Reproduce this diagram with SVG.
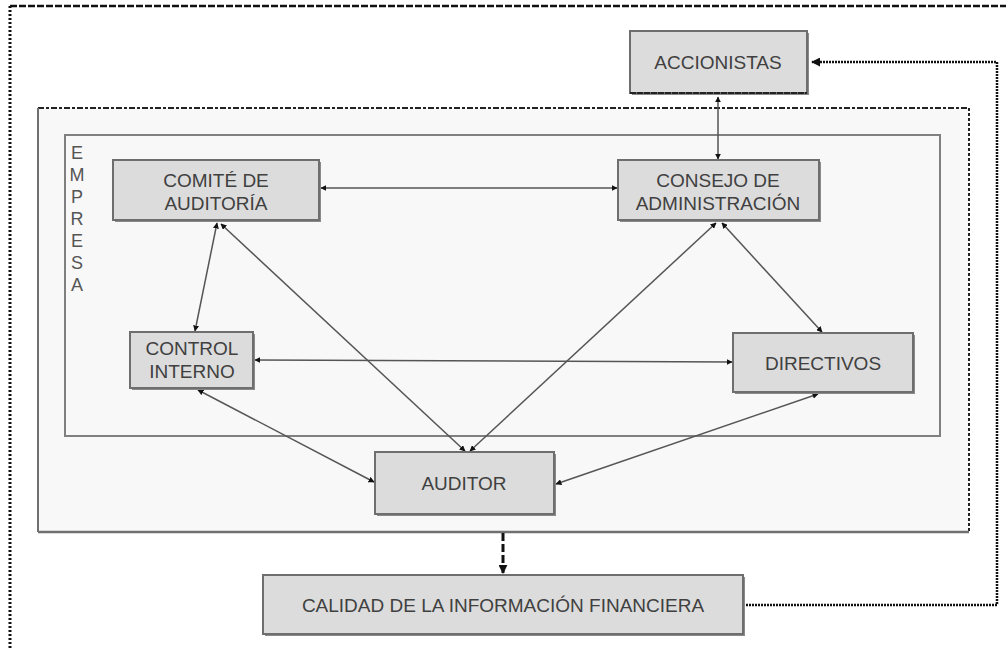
<svg xmlns="http://www.w3.org/2000/svg" width="1006" height="650" viewBox="0 0 1006 650">
<style>
.node rect.b{fill:#dcdcdc;stroke:#6e6e6e;stroke-width:2}
.node rect.s{fill:#8a8a8a}
.t{font-family:"Liberation Sans",Arial,sans-serif;font-size:19px;fill:#404040;text-anchor:middle}
.emp{font-family:"Liberation Sans",Arial,sans-serif;font-size:18px;fill:#555;text-anchor:middle}
.c{fill:none;stroke:#555;stroke-width:1.5}
.dot{fill:none;stroke:#111;stroke-width:2.5;stroke-dasharray:2 1}
</style>
<defs>
<marker id="a" viewBox="0 0 10 10" refX="9" refY="5" markerWidth="6" markerHeight="6" orient="auto-start-reverse" markerUnits="userSpaceOnUse">
<path d="M0,0 L10,5 L0,10 z" fill="#111"/>
</marker>
<marker id="ab" viewBox="0 0 10 10" refX="9" refY="5" markerWidth="9" markerHeight="9" orient="auto-start-reverse" markerUnits="userSpaceOnUse">
<path d="M0,0 L10,5 L0,10 z" fill="#111"/>
</marker>
</defs>
<rect width="1006" height="650" fill="#fff"/>
<g id="frame">
<line x1="10" y1="6" x2="1006" y2="6" stroke="#111" stroke-width="2.5" stroke-dasharray="7 2"/>
<line x1="10" y1="6" x2="10" y2="650" stroke="#111" stroke-width="3" stroke-dasharray="2 2"/>
</g>
<g id="empresa">
<rect x="38" y="108" width="931" height="424" fill="#f8f8f8"/>
<line x1="38" y1="108" x2="969" y2="108" stroke="#222" stroke-width="2" stroke-dasharray="6 2 3 2"/>
<line x1="969" y1="108" x2="969" y2="532" stroke="#222" stroke-width="2" stroke-dasharray="3 2"/>
<line x1="38" y1="108" x2="38" y2="532" stroke="#707070" stroke-width="2"/>
<line x1="38" y1="532" x2="969" y2="532" stroke="#707070" stroke-width="2.5"/>
<rect x="65" y="135" width="875" height="301" fill="#f8f8f8" stroke="#808080" stroke-width="2"/>
<text class="emp" x="77"><tspan x="77" y="159">E</tspan><tspan x="77" y="181">M</tspan><tspan x="77" y="203">P</tspan><tspan x="77" y="225">R</tspan><tspan x="77" y="247">E</tspan><tspan x="77" y="269">S</tspan><tspan x="77" y="291">A</tspan></text>
</g>
<g id="connectors">
<line class="c" x1="718" y1="97" x2="718" y2="159" marker-start="url(#a)" marker-end="url(#a)"/>
<line class="c" x1="321" y1="188" x2="617" y2="188" marker-start="url(#a)" marker-end="url(#a)"/>
<line class="c" x1="217" y1="223" x2="195" y2="331" marker-start="url(#a)" marker-end="url(#a)"/>
<line class="c" x1="221" y1="224" x2="465" y2="451" marker-start="url(#a)" marker-end="url(#a)"/>
<line class="c" x1="716" y1="223" x2="470" y2="451" marker-start="url(#a)" marker-end="url(#a)"/>
<line class="c" x1="722" y1="223" x2="822" y2="332" marker-start="url(#a)" marker-end="url(#a)"/>
<line class="c" x1="255" y1="360" x2="732" y2="362" marker-start="url(#a)" marker-end="url(#a)"/>
<line class="c" x1="198" y1="390" x2="374" y2="482" marker-start="url(#a)" marker-end="url(#a)"/>
<line class="c" x1="818" y1="394" x2="556" y2="484" marker-start="url(#a)" marker-end="url(#a)"/>
<line x1="503" y1="533" x2="503" y2="573" stroke="#111" stroke-width="3" stroke-dasharray="8 3" marker-end="url(#ab)"/>
<polyline class="dot" points="743,605 997,605 997,62 812,62" marker-end="url(#ab)"/>
</g>
<g id="accionistas" class="node">
<rect class="s" x="632" y="33" width="177" height="62"/>
<rect class="b" x="630" y="31" width="177" height="62"/>
<line x1="630" y1="93" x2="807" y2="93" stroke="#222" stroke-width="2" stroke-dasharray="6 1"/>
<text class="t" x="718" y="69">ACCIONISTAS</text>
</g>
<g id="comite" class="node">
<rect class="s" x="115" y="162" width="206" height="60"/>
<rect class="b" x="113" y="160" width="206" height="60"/>
<text class="t" x="216" y="187">COMITÉ DE</text>
<text class="t" x="216" y="210">AUDITORÍA</text>
</g>
<g id="consejo" class="node">
<rect class="s" x="620" y="162" width="201" height="60"/>
<rect class="b" x="618" y="160" width="201" height="60"/>
<text class="t" x="718" y="187">CONSEJO DE</text>
<text class="t" x="718" y="210">ADMINISTRACIÓN</text>
</g>
<g id="control" class="node">
<rect class="s" x="132" y="334" width="123" height="56"/>
<rect class="b" x="130" y="332" width="123" height="56"/>
<text class="t" x="192" y="355">CONTROL</text>
<text class="t" x="192" y="378">INTERNO</text>
</g>
<g id="directivos" class="node">
<rect class="s" x="735" y="335" width="180" height="59"/>
<rect class="b" x="733" y="333" width="180" height="59"/>
<text class="t" x="823" y="370">DIRECTIVOS</text>
</g>
<g id="auditor" class="node">
<rect class="s" x="377" y="454" width="179" height="62"/>
<rect class="b" x="375" y="452" width="179" height="62"/>
<text class="t" x="464" y="490">AUDITOR</text>
</g>
<g id="calidad" class="node">
<rect class="s" x="265" y="577" width="480" height="59"/>
<rect class="b" x="263" y="575" width="480" height="59"/>
<text class="t" x="503" y="612">CALIDAD DE LA INFORMACIÓN FINANCIERA</text>
</g>
</svg>
